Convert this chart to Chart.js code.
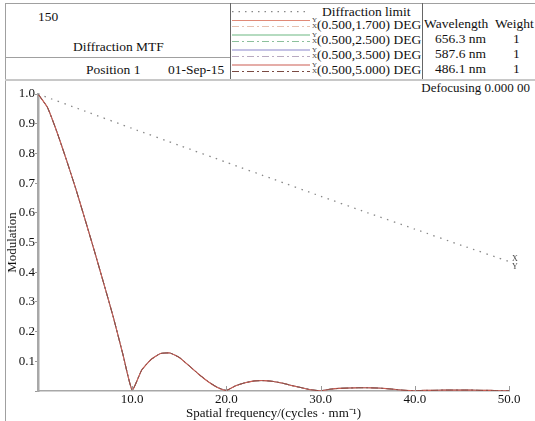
<!DOCTYPE html>
<html>
<head>
<meta charset="utf-8">
<script src="https://cdn.jsdelivr.net/npm/chart.js@4"></script>
<style>
  body { margin: 0; background: #fff; }
  #page { position: relative; width: 535px; height: 421px; overflow: hidden;
          font-family: "Liberation Serif", "Times New Roman", serif; color: #111; }
  .t { position: absolute; white-space: nowrap; line-height: 1; font-size: 13.5px; }
  .hl { position: absolute; height: 0; border-top: 1.5px solid #a0a0a0; }
  .vl { position: absolute; width: 0; border-left: 1.5px solid #a0a0a0; }
  .stk { display: inline-block; font-size: 7px; line-height: 6px; vertical-align: 1px; text-align: center; width: 5px; color: #444; }
  #plot { position: absolute; left: 5px; top: 80px; }
</style>
</head>
<body>
<div id="page">
  <div class="hl" style="left:5px;top:3px;width:530px"></div>
  <div class="vl" style="left:5px;top:3px;height:418px"></div>
  <div class="vl" style="left:230px;top:3px;height:77px;border-color:#666"></div>
  <div class="vl" style="left:422px;top:3px;height:77px;border-color:#666"></div>
  <div class="hl" style="left:5px;top:57px;width:225px"></div>
  <div class="hl" style="left:5px;top:79px;width:530px;border-top:2px solid #c8c8c8"></div>

  <div class="t" style="left:38px;top:10px">150</div>
  <div class="t" style="left:73px;top:40px">Diffraction MTF</div>
  <div class="t" style="left:86px;top:63px">Position 1</div>
  <div class="t" style="left:168px;top:63px">01-Sep-15</div>

  <svg id="legendLines" width="80" height="80" style="position:absolute;left:232px;top:0"></svg>
  <div id="legendText"></div>
  <div id="waveText"></div>

  <div class="t" style="right:5px;top:81px;font-size:13px">Defocusing 0.000 00</div>
  <canvas id="plot" width="530" height="341"></canvas>
</div>
<script>
// spatial frequency samples (cycles/mm)
const freq = [0,1,2,3,4,5,6,7,8,9,10,11,12,13,14,15,16,17,18,19,20,21,22,23,24,25,
              26,27,28,29,30,31,32,33,34,35,36,37,38,39,40,41,42,43,44,45,46,47,48,49,50];
// MTF, same for every field (T and S overlap)
const mtf = [1.0,0.955,0.873,0.78,0.682,0.577,0.47,0.36,0.248,0.125,0.003,
             0.07,0.106,0.126,0.128,0.113,0.086,0.058,0.033,0.013,0.002,
             0.018,0.028,0.034,0.035,0.032,0.026,0.018,0.011,0.004,0.001,
             0.006,0.009,0.010,0.011,0.011,0.010,0.008,0.005,0.002,0.001,
             0.002,0.002,0.003,0.003,0.003,0.003,0.002,0.002,0.001,0.001];
// diffraction limit
const diffFreq = [0,5,10,15,20,25,30,35,40,45,50];
const diffLimit = [1.0,0.942,0.884,0.827,0.77,0.713,0.656,0.6,0.545,0.49,0.436];

const fields = ['(0.500,1.700) DEG','(0.500,2.500) DEG','(0.500,3.500) DEG','(0.500,5.000) DEG'];
const tanColors = ['#e08a78','#6cb882','#8a86cc','#cc5c52'];
const sagColors = ['#e6c0b0','#8cc09c','#b8aac0','#7a4a42'];
const wavelengths = ['656.3 nm','587.6 nm','486.1 nm'];
const weights = ['1','1','1'];

// header legend: line samples + labels
const svg = document.getElementById('legendLines');
const sampleY = [11.7,20.5,26.5,35,41.5,50,56.5,65,71.5];
function sample(y, color, dash) {
  const l = document.createElementNS('http://www.w3.org/2000/svg','line');
  l.setAttribute('x1',0); l.setAttribute('x2',78);
  l.setAttribute('y1',y); l.setAttribute('y2',y);
  l.setAttribute('stroke',color); l.setAttribute('stroke-width',1.2);
  if (dash) l.setAttribute('stroke-dasharray',dash);
  svg.appendChild(l);
}
sample(sampleY[0], '#888', '1.5,5');
fields.forEach((f,i) => {
  sample(sampleY[1+i*2], tanColors[i], null);
  sample(sampleY[2+i*2], sagColors[i], '7,3,2,3');
});
let lt = '<div class="t" style="left:322px;top:5px">Diffraction limit</div>';
fields.forEach((f,i) => {
  lt += '<div class="t" style="left:312px;top:' + (16.5 + i*15.2) + 'px">' +
        '<span class="stk">Y<br>X</span>' + f + '</div>';
});
document.getElementById('legendText').innerHTML = lt;
let wt = '<div class="t" style="left:424px;top:16.5px">Wavelength</div>' +
         '<div class="t" style="left:495px;top:16.5px">Weight</div>';
wavelengths.forEach((w,i) => {
  wt += '<div class="t" style="left:435px;top:' + (31.7 + i*15.2) + 'px">' + w + '</div>' +
        '<div class="t" style="left:513px;top:' + (31.7 + i*15.2) + 'px">' + weights[i] + '</div>';
});
document.getElementById('waveText').innerHTML = wt;

const datasets = [{
  label: 'Diffraction limit',
  data: diffFreq.map((x,i) => ({x: x, y: diffLimit[i]})),
  borderColor: '#888',
  borderWidth: 1.3,
  borderDash: [1.5, 5.5],
  tension: 0.2,
  order: 0
}];
fields.forEach((f,i) => {
  const top = i === fields.length - 1;
  datasets.push({
    label: f + ' T',
    data: freq.map((x,k) => ({x: x, y: mtf[k]})),
    borderColor: tanColors[i], borderWidth: top ? 1.1 : 0.6, tension: 0.15,
    order: 20 - i*2
  });
  datasets.push({
    label: f + ' S',
    data: freq.map((x,k) => ({x: x, y: mtf[k]})),
    borderColor: sagColors[i], borderWidth: top ? 0.8 : 0.5, borderDash: [7,3,2,3], tension: 0.15,
    order: 19 - i*2
  });
});

// inward x ticks and the X/Y tag at the end of the diffraction line
const extras = {
  id: 'extras',
  afterDatasetsDraw(chart) {
    const ctx = chart.ctx, xs = chart.scales.x, ys = chart.scales.y;
    ctx.save();
    ctx.strokeStyle = '#999';
    ctx.lineWidth = 1;
    [10,20,30,40,50].forEach(v => {
      const px = Math.round(xs.getPixelForValue(v)) + 0.5;
      ctx.beginPath();
      ctx.moveTo(px, ys.bottom);
      ctx.lineTo(px, ys.bottom - 5);
      ctx.stroke();
    });
    const ex = xs.getPixelForValue(diffFreq[diffFreq.length-1]);
    const ey = ys.getPixelForValue(diffLimit[diffLimit.length-1]);
    ctx.fillStyle = '#444';
    ctx.font = '8px "Liberation Serif"';
    ctx.textAlign = 'left';
    ctx.fillText('X', ex + 3, ey - 1);
    ctx.fillText('Y', ex + 3, ey + 7);
    ctx.restore();
  }
};

new Chart(document.getElementById('plot'), {
  type: 'line',
  data: { datasets: datasets },
  options: {
    responsive: false,
    animation: false,
    layout: { padding: { top: 14, right: 26, left: 0, bottom: 0 } },
    elements: { point: { radius: 0 } },
    plugins: { legend: { display: false }, tooltip: { enabled: false } },
    scales: {
      x: {
        type: 'linear', min: 0, max: 50,
        afterFit: s => { s.height = 30; },
        grid: { display: false, drawTicks: false },
        border: { display: true, color: '#a8a8a8', width: 1.5 },
        ticks: {
          stepSize: 10, padding: 1, color: '#111', maxRotation: 0,
          font: { family: 'Liberation Serif', size: 13 },
          callback: v => v === 0 ? '' : v.toFixed(1)
        },
        title: {
          display: true, text: 'Spatial frequency/(cycles · mm⁻¹)', color: '#111',
          font: { family: 'Liberation Serif', size: 13 }, padding: { top: 0, bottom: 0 }
        }
      },
      y: {
        type: 'linear', min: 0, max: 1.0,
        afterFit: s => { s.width = 33; },
        grid: { drawOnChartArea: false, drawTicks: true, tickLength: 3, color: '#999' },
        border: { display: true, color: '#a8a8a8', width: 2.5 },
        ticks: {
          stepSize: 0.1, padding: 0, color: '#111',
          font: { family: 'Liberation Serif', size: 13 },
          callback: v => v === 0 ? '' : v.toFixed(1)
        },
        title: {
          display: true, text: 'Modulation', color: '#111',
          font: { family: 'Liberation Serif', size: 13 }, padding: 0
        }
      }
    }
  },
  plugins: [extras]
});
</script>
</body>
</html>
